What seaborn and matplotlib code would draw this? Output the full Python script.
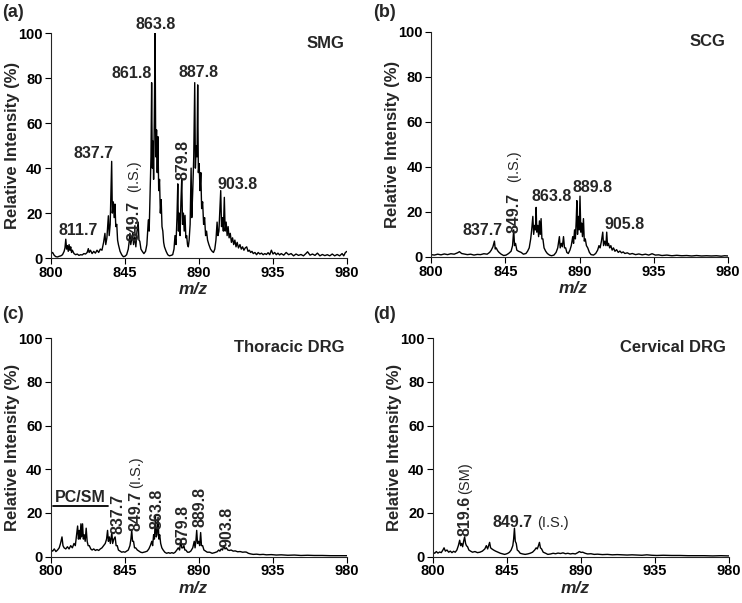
import matplotlib
matplotlib.use("Agg")
import matplotlib.pyplot as plt
import seaborn as sns

# ---- spectra (m/z, relative intensity %) ----
smg_mz = [800, 801, 802, 803, 804, 805, 806, 807, 808, 808.5,
          809, 809.5, 810, 810.5, 811, 811.5, 812, 812.5, 813, 814,
          815, 816, 817, 818, 819, 820, 821, 822, 822.7, 823.2,
          824, 825, 826, 827, 828, 829, 830, 831, 832, 832.8,
          833.3, 834, 834.9, 835.4, 836, 836.9, 837.3, 837.9, 838.4, 838.9,
          839.4, 840, 840.5, 841, 842, 843, 844, 845, 846, 847,
          847.5, 848, 848.5, 849, 849.7, 850.2, 851, 851.6, 852.3, 853,
          853.5, 854, 854.7, 855.5, 856.5, 857.5, 858.3, 858.8, 859.2, 859.7,
          860.3, 860.8, 861.2, 861.6, 862.0, 862.4, 862.8, 863.3, 863.7, 864.2,
          864.6, 865.0, 865.5, 866.0, 866.5, 867.0, 867.5, 868.0, 868.5, 869.0,
          870, 871, 872, 873, 874, 874.8, 875.4, 876, 876.6, 877.1,
          877.5, 878, 878.5, 879, 879.5, 880, 880.5, 881, 881.5, 882,
          882.5, 883, 883.5, 884, 884.6, 885.2, 885.6, 886.2, 886.8, 887.4,
          887.8, 888.3, 888.8, 889.2, 889.6, 890.1, 890.6, 891.1, 891.6, 892.2,
          892.8, 893.4, 894, 894.6, 895.2, 896, 897, 898, 898.8, 899.6,
          900.3, 901, 901.5, 902.1, 902.7, 903.2, 903.7, 904.3, 904.8, 905.4,
          905.9, 906.5, 907.1, 907.7, 908.3, 909, 909.7, 910.4, 911.1, 911.8,
          912.5, 913.2, 914, 914.9, 915.7, 916.5, 917.3, 918.1, 919, 919.8,
          920.6, 921.4, 922.2, 923, 924, 925, 926, 927, 928, 929,
          930, 931, 932, 933, 934, 935, 936, 937, 938, 939,
          940, 941.5, 943, 944.5, 946, 947.5, 949, 950.5, 952, 953.5,
          955, 956, 957.5, 959, 960.5, 962, 963.5, 965, 966.5, 968,
          969.5, 971, 972.5, 974, 975.5, 977, 978, 979, 980]
smg_int = [2.0, 2.5, 1.2, 0.6, 0.5, 0.8, 1.0, 1.5, 3.0, 4.5,
           8.4, 4.0, 5.5, 3.0, 6.0, 3.5, 5.0, 2.5, 3.5, 2.0,
           1.5, 1.8, 1.2, 1.5, 1.4, 2.0, 1.8, 2.5, 4.2, 2.5,
           3.5, 2.0, 3.0, 2.2, 3.5, 2.5, 4.0, 3.5, 7.0, 11.0,
           6.0, 9.0, 18.8, 10.0, 15.0, 43.0, 20.0, 25.0, 18.0, 24.0,
           14.0, 15.0, 8.0, 6.0, 3.0, 1.5, 0.6, 0.8, 1.5, 4.0,
           7.0, 11.0, 6.0, 8.0, 11.0, 6.0, 9.5, 5.0, 12.0, 16.0,
           8.0, 7.5, 4.0, 3.0, 2.0, 3.0, 6.0, 12.0, 17.0, 12.0,
           30.0, 45.0, 78.0, 40.0, 52.0, 35.0, 60.0, 100.0, 45.0, 57.0,
           38.0, 54.0, 30.0, 35.0, 20.0, 26.0, 14.0, 12.0, 7.0, 5.0,
           3.0, 1.5, 1.0, 1.2, 1.5, 4.0, 10.0, 6.0, 18.0, 33.0,
           12.0, 20.0, 10.0, 25.0, 35.0, 15.0, 20.0, 12.0, 19.0, 9.0,
           10.0, 6.0, 5.0, 8.0, 15.0, 40.0, 18.0, 30.0, 45.0, 78.0,
           40.0, 50.0, 45.0, 77.0, 38.0, 42.0, 30.0, 38.0, 22.0, 25.0,
           15.0, 18.0, 10.0, 12.0, 8.0, 6.0, 4.0, 3.0, 2.5, 4.0,
           8.0, 16.0, 10.0, 12.0, 22.0, 30.0, 14.0, 18.0, 12.0, 27.0,
           12.0, 16.0, 10.0, 14.0, 9.0, 11.0, 7.0, 9.0, 6.0, 8.0,
           5.0, 7.0, 4.5, 6.0, 4.0, 5.0, 3.5, 4.5, 5.0, 3.0,
           3.5, 2.5, 3.0, 2.0, 2.5, 1.5, 2.5, 1.8, 2.2, 1.5,
           2.0, 1.6, 2.4, 1.5, 3.5, 1.8, 2.5, 1.5, 2.2, 1.4,
           2.0, 1.3, 2.5, 1.5, 2.0, 1.0, 1.8, 1.2, 1.6, 1.0,
           2.0, 2.8, 1.3, 1.8, 1.2, 2.2, 1.0, 1.6, 1.1, 1.5,
           1.0, 1.8, 1.0, 1.6, 1.0, 2.0, 1.0, 2.5, 3.0]

scg_mz = [800, 802, 804, 806, 808, 810, 812, 814, 816, 817.2,
          818.5, 820, 822, 824, 826, 828, 830, 832, 834, 835.5,
          836.5, 837.5, 838.4, 838.9, 839.5, 840.3, 841.2, 842.5, 844, 845.5,
          847, 848.5, 849.4, 850.1, 850.6, 851.2, 852, 853, 854.6, 856,
          857.5, 858.5, 859.5, 860.4, 861.0, 861.7, 862.2, 862.8, 863.3, 863.7,
          864.1, 864.7, 865.2, 865.7, 866.2, 866.7, 867.2, 867.8, 868.5, 869.5,
          870.5, 871.8, 873, 874.5, 875.8, 876.8, 877.8, 878.3, 879, 879.6,
          880.3, 880.9, 881.6, 882.3, 883.2, 884.2, 885, 885.9, 886.4, 887,
          887.5, 888, 888.4, 888.8, 889.3, 889.8, 890.3, 890.8, 891.3, 891.8,
          892.4, 892.9, 893.5, 894.2, 895, 896, 897, 898.5, 899.8, 901,
          901.8, 902.5, 903.3, 904.1, 904.6, 905.3, 906, 906.5, 907, 907.6,
          908.3, 909, 909.8, 910.6, 911.5, 912.5, 913.5, 914.5, 915.5, 916.5,
          917.5, 919, 920.5, 922, 924, 926, 928, 930, 932, 934,
          936, 938, 940, 943, 946, 949, 952, 955, 958, 961,
          964, 967, 970, 973, 976, 978, 980]
scg_int = [1.0, 0.8, 1.2, 0.9, 1.3, 1.0, 1.4, 1.2, 1.8, 2.3,
           1.5, 1.3, 1.0, 1.2, 0.8, 1.1, 1.0, 1.4, 1.2, 2.0,
           3.0, 4.5, 7.0, 3.5, 4.0, 2.8, 2.0, 1.2, 0.6, 0.8,
           1.5, 2.5, 5.0, 12.0, 5.0, 6.0, 3.0, 2.5, 2.0, 1.2,
           1.5, 2.5, 4.0, 8.0, 12.0, 18.0, 10.0, 14.0, 12.0, 22.0,
           11.0, 14.0, 9.0, 16.0, 10.0, 17.0, 8.0, 8.0, 4.0, 2.5,
           1.5, 0.8, 0.5, 0.8, 2.0, 4.0, 9.0, 4.0, 6.0, 4.5,
           9.0, 4.0, 4.0, 2.0, 1.5, 3.0, 5.0, 9.0, 6.0, 12.0,
           8.0, 16.0, 25.0, 10.0, 18.0, 12.0, 27.0, 11.0, 15.0, 9.0,
           17.0, 7.0, 8.0, 5.0, 4.0, 2.0, 1.0, 0.8, 1.5, 3.0,
           5.0, 4.0, 7.0, 11.0, 5.0, 7.0, 5.0, 11.0, 5.0, 6.0,
           4.0, 5.0, 3.0, 4.0, 2.5, 3.2, 2.0, 2.6, 1.8, 2.2,
           1.5, 1.8, 1.2, 1.5, 1.0, 1.3, 0.9, 1.2, 0.8, 1.4,
           0.8, 0.9, 0.6, 0.8, 0.5, 0.7, 0.5, 0.6, 0.4, 0.6,
           0.4, 0.5, 0.4, 0.5, 0.3, 0.5, 0.4]

tdrg_mz = [800, 801, 802, 803, 804, 805, 805.8, 806.7, 807.3, 808,
           809, 810, 811, 812, 813, 814, 814.8, 815.6, 816.2, 816.7,
           817.2, 817.7, 818.2, 818.7, 819.2, 819.7, 820.2, 820.8, 821.4, 822,
           822.6, 823.3, 824.2, 825, 826, 827, 828, 829, 830, 831,
           832, 833, 833.8, 834.4, 834.9, 835.5, 836.1, 837, 837.5, 838.2,
           839, 839.6, 840.3, 841, 842, 843, 844, 845, 846, 847,
           848, 848.6, 849.1, 849.6, 850.2, 850.8, 851.5, 852.5, 853.5, 854.5,
           855.5, 856.5, 857.5, 858.5, 859.5, 860.4, 861.3, 861.8, 862.4, 862.9,
           863.5, 864, 864.5, 865.1, 865.6, 866.1, 866.7, 867.4, 868.2, 869.2,
           870.3, 871.5, 872.4, 873.5, 874.5, 875.5, 876.5, 877.4, 878.2, 879,
           879.5, 880.2, 880.8, 881.4, 882, 883, 884, 885, 886.2, 887.1,
           887.6, 888.1, 888.6, 889.1, 889.8, 890.4, 891, 891.5, 892.2, 893,
           894, 895, 896.5, 898, 899.5, 901, 902, 902.7, 903.5, 904.3,
           905.1, 905.8, 906.6, 907.5, 908.5, 909.5, 910.8, 912, 913.5, 915,
           916.5, 918, 918.9, 920, 921.5, 923, 925, 927, 929, 931,
           934, 937, 940, 944, 948, 952, 956, 960, 965, 970,
           975, 980]
tdrg_int = [3.0, 2.5, 3.5, 2.3, 3.0, 4.0, 6.0, 9.0, 5.0, 4.0,
            3.5, 4.5, 3.5, 5.0, 4.0, 6.0, 5.0, 10.0, 14.0, 8.0,
            12.0, 8.0, 15.0, 9.0, 15.0, 8.0, 10.0, 7.0, 13.0, 7.0,
            5.0, 5.0, 3.5, 3.0, 3.5, 2.8, 3.2, 2.8, 3.5, 4.0,
            5.0, 6.0, 8.0, 12.0, 7.0, 9.0, 6.0, 11.0, 6.0, 8.0,
            9.0, 5.0, 5.0, 3.0, 2.5, 2.0, 2.2, 2.0, 2.5, 3.0,
            5.0, 8.0, 12.0, 7.0, 7.0, 4.0, 4.0, 3.0, 2.5, 2.0,
            1.8, 2.0, 2.2, 2.5, 3.5, 5.0, 7.0, 5.0, 10.0, 8.0,
            18.5, 9.0, 10.0, 18.0, 8.0, 10.0, 6.0, 4.0, 3.0, 2.0,
            1.5, 1.8, 1.5, 1.8, 1.5, 2.0, 3.0, 4.0, 3.0, 8.0,
            4.0, 4.0, 5.0, 3.0, 3.0, 2.0, 2.0, 2.5, 4.0, 7.0,
            4.0, 7.0, 12.0, 6.0, 7.0, 5.0, 11.0, 5.0, 5.0, 3.0,
            2.5, 2.0, 2.0, 1.5, 1.8, 2.2, 3.0, 2.5, 3.5, 3.0,
            5.0, 3.5, 4.0, 3.0, 2.8, 3.0, 2.5, 2.6, 2.2, 2.3,
            2.0, 2.1, 2.0, 1.5, 1.2, 1.0, 1.1, 0.9, 1.0, 0.8,
            0.9, 0.7, 0.8, 0.6, 0.7, 0.5, 0.6, 0.5, 0.5, 0.4,
            0.4, 0.4]

cdrg_mz = [800, 801, 802, 803, 804, 805, 806, 806.7, 807.5, 808.5,
           809.5, 810.5, 811.5, 812.5, 813.5, 814.5, 815.4, 816.2, 816.8, 817.4,
           818, 818.6, 819.2, 819.8, 820.3, 821, 821.8, 822.8, 824, 825.5,
           827, 828.5, 830, 831.5, 832.4, 833.2, 834.4, 835, 835.8, 836.8,
           838, 839.5, 841, 842.5, 843.5, 844.5, 845.5, 846.5, 847.5, 848.5,
           849, 849.5, 850, 850.6, 851.2, 852, 853, 854.5, 856, 857.5,
           859, 860.5, 861.8, 862.7, 863.4, 864.1, 864.7, 865.3, 866, 867,
           868.5, 869.8, 871.5, 873, 874.5, 876, 877.5, 879, 880.5, 882,
           883.5, 885, 886.5, 888, 889, 890, 891, 892.5, 894, 896,
           898, 900, 903, 906, 909, 912, 915, 918, 921, 924,
           927, 930, 933, 936, 940, 945, 950, 955, 960, 965,
           970, 975, 980]
cdrg_int = [2.0, 1.5, 2.3, 1.6, 2.1, 1.8, 3.0, 4.0, 2.5, 3.0,
            2.0, 2.5, 1.8, 2.4, 2.0, 3.0, 5.0, 7.5, 5.0, 6.0,
            4.5, 7.0, 9.0, 6.0, 5.0, 4.5, 3.0, 2.5, 2.0, 2.3,
            1.8, 2.0, 2.5, 3.5, 5.0, 3.5, 6.5, 4.0, 3.5, 3.0,
            2.5, 2.0, 1.5, 1.2, 1.0, 1.2, 1.5, 2.0, 3.0, 5.0,
            8.0, 13.0, 7.0, 6.0, 3.0, 2.5, 1.5, 1.2, 1.0, 1.2,
            1.5, 2.0, 3.0, 4.0, 3.5, 5.0, 6.5, 4.0, 3.5, 2.0,
            1.5, 1.0, 1.2, 1.5, 1.3, 1.6, 1.4, 1.7, 1.3, 1.5,
            1.2, 1.4, 1.2, 1.8, 2.3, 1.9, 2.0, 1.5, 1.2, 1.3,
            1.0, 1.1, 0.9, 1.0, 0.8, 0.9, 0.8, 0.7, 0.8, 0.7,
            0.6, 0.8, 0.6, 0.5, 0.6, 0.5, 0.5, 0.4, 0.4, 0.4,
            0.3, 0.4, 0.3]

x_ticks = [800, 845, 890, 935, 980]
y_ticks = [0, 20, 40, 60, 80, 100]
panel_names = ["SMG", "SCG", "Thoracic DRG", "Cervical DRG"]
panel_tags = ["(a)", "(b)", "(c)", "(d)"]

sns.set_style("ticks")
plt.rcParams["font.family"] = ["Liberation Sans", "DejaVu Sans"]
plt.rcParams["font.weight"] = "bold"

W, H = 742, 603
fig = plt.figure(figsize=(W / 100, H / 100), dpi=100)
rects = [[0.0687, 0.572, 0.399, 0.373], [0.581, 0.574, 0.400, 0.373],
         [0.0687, 0.077, 0.399, 0.362], [0.5836, 0.077, 0.399, 0.362]]
data = [(smg_mz, smg_int), (scg_mz, scg_int), (tdrg_mz, tdrg_int), (cdrg_mz, cdrg_int)]
axes = []
for r, (mz, inten), name in zip(rects, data, panel_names):
    ax = fig.add_axes(r)
    sns.lineplot(x=mz, y=inten, ax=ax, color="black", lw=1.0, estimator=None)
    ax.set_xlim(800, 980)
    ax.set_ylim(0, 100)
    ax.set_xticks(x_ticks)
    ax.set_yticks(y_ticks)
    ax.tick_params(labelsize=10.5, length=4, width=0.8, colors="black")
    ax.tick_params(axis="x", pad=1.5)
    ax.tick_params(axis="y", pad=2)
    for lab in ax.get_xticklabels() + ax.get_yticklabels():
        lab.set_fontweight("bold")
    for s in ["top", "right"]:
        ax.spines[s].set_visible(False)
    for s in ["left", "bottom"]:
        ax.spines[s].set_linewidth(0.8)
    ax.set_ylabel("Relative Intensity (%)", fontsize=12, fontweight="bold")
    ax.yaxis.set_label_coords(-0.105, 0.5)
    ax.set_xlabel("m/z", fontsize=12.5, fontweight="bold", style="italic")
    ax.xaxis.set_label_coords(0.48, -24 / (r[3] * H))
    ax.text(0.99, 0.956, name, transform=ax.transAxes, ha="right", va="center",
            fontsize=12, fontweight="bold")
    axes.append(ax)

lbl = dict(fontsize=11.5, fontweight="bold", ha="center", va="center")
small = dict(fontsize=10.5, fontweight="normal", ha="center", va="center")

a, b, c, d = axes
a.text(863.8, 104, "863.8", **lbl)
a.text(849.1, 82, "861.8", **lbl)
a.text(889.6, 82.5, "887.8", **lbl)
a.text(826.1, 46.4, "837.7", **lbl)
a.text(880.0, 43.7, "879.8", rotation=90, **lbl)
a.text(850.5, 16.7, "849.7", rotation=90, **lbl)
a.text(850.5, 36.3, "(I.S.)", rotation=90, **small)
a.text(913.3, 32.9, "903.8", **lbl)
a.text(816.6, 12.1, "811.7", **lbl)

b.text(831.3, 11.7, "837.7", **lbl)
b.text(850.5, 19.6, "849.7", rotation=90, **lbl)
b.text(850.5, 40.3, "(I.S.)", rotation=90, **small)
b.text(872.8, 27.0, "863.8", **lbl)
b.text(898.0, 31.0, "889.8", **lbl)
b.text(917.3, 14.4, "905.8", **lbl)

c.plot([801, 834.4], [23, 23], color="black", lw=1.3)
c.text(817.8, 27.0, "PC/SM", **lbl)
c.text(841.0, 19.6, "837.7", rotation=90, **lbl)
c.text(851.8, 20.7, "849.7", rotation=90, **lbl)
c.text(851.8, 38.5, "(I.S.)", rotation=90, **small)
c.text(864.3, 21.8, "863.8", rotation=90, **lbl)
c.text(880.0, 14.4, "879.8", rotation=90, **lbl)
c.text(890.6, 22.5, "889.8", rotation=90, **lbl)
c.text(906.8, 13.6, "903.8", rotation=90, **lbl)

d.text(819.6, 18.7, "819.6", rotation=90, **lbl)
d.text(819.8, 36.0, "(SM)", rotation=90, **small)
d.text(848.5, 15.8, "849.7", **lbl)
d.text(872.8, 15.6, "(I.S.)", **small)

for tag, (x, y) in zip(panel_tags, [(0.003, 0.98), (0.503, 0.98), (0.003, 0.478), (0.503, 0.478)]):
    fig.text(x, y, tag, fontsize=13, fontweight="bold", ha="left", va="center")

fig.savefig("out.png", dpi=100)
